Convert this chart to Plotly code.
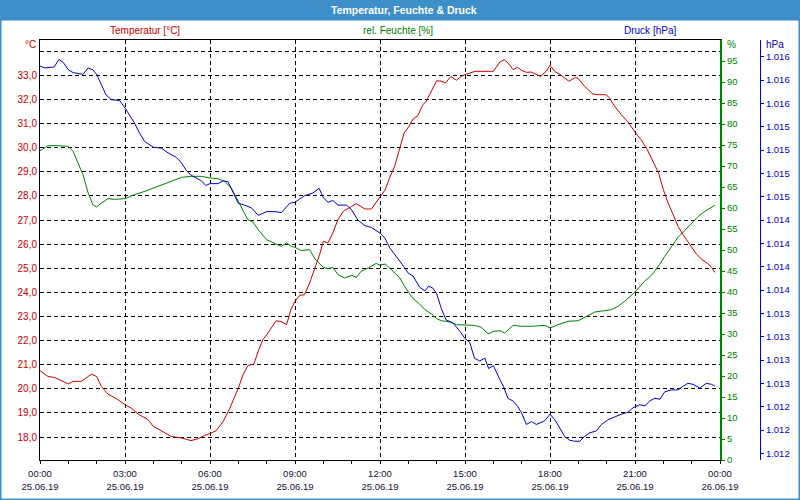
import pandas as pd
import plotly.graph_objects as go

# ---------------- data (minutes after 25.06.19 00:00) ----------------
temp_min = [0, 17, 31, 60, 70, 88, 109, 120, 130, 144, 165, 180, 193, 208, 229, 240, 257, 278, 300, 320,
            335, 349, 360, 373, 388, 402, 420, 430, 440, 453, 462, 472, 480, 500, 511, 522, 532, 540, 550, 560,
            571, 582, 592, 600, 610, 620, 631, 642, 653, 660, 670, 688, 702, 712, 720, 731, 740, 751, 762, 771,
            780, 790, 800, 811, 818, 829, 840, 850, 859, 870, 882, 892, 900, 921, 942, 960, 974, 983, 991, 1002,
            1011, 1020, 1030, 1040, 1060, 1072, 1080, 1090, 1104, 1120, 1134, 1140, 1153, 1171, 1182, 1199, 1206,
            1217, 1231, 1245, 1260, 1273, 1286, 1298, 1310, 1320, 1330, 1341, 1351, 1362, 1372, 1380, 1390, 1402,
            1415, 1422, 1429]
temp_val = [20.75, 20.51, 20.47, 20.20, 20.31, 20.31, 20.61, 20.51, 20.10, 19.78, 19.55, 19.34, 19.20, 18.95,
            18.72, 18.44, 18.26, 18.02, 17.96, 17.85, 17.93, 18.07, 18.14, 18.26, 18.65, 19.20, 20.03, 20.58,
            20.96, 21.03, 21.55, 22.04, 22.24, 22.82, 22.79, 22.66, 23.32, 23.63, 23.88, 23.90, 24.39, 25.01,
            25.56, 26.12, 26.05, 26.46, 27.02, 27.36, 27.47, 27.57, 27.68, 27.46, 27.46, 27.71, 27.96, 28.26,
            28.74, 29.23, 29.99, 30.61, 30.85, 31.19, 31.33, 31.79, 31.93, 32.34, 32.78, 32.76, 32.69, 32.96,
            32.80, 32.96, 33.03, 33.17, 33.17, 33.17, 33.56, 33.65, 33.52, 33.24, 33.34, 33.21, 33.13, 33.14,
            32.96, 33.17, 33.42, 33.17, 33.00, 32.76, 32.92, 32.87, 32.55, 32.23, 32.20, 32.20, 32.06, 31.72,
            31.37, 31.07, 30.65, 30.33, 29.92, 29.46, 28.95, 28.26, 27.71, 27.22, 26.74, 26.39, 26.12, 25.87,
            25.59, 25.36, 25.18, 25.04, 24.83]

hum_min = [0, 17, 38, 60, 70, 80, 91, 102, 112, 120, 130, 144, 158, 180, 200, 222, 240, 257, 278, 300, 320,
           342, 360, 377, 391, 405, 420, 440, 451, 462, 480, 497, 511, 522, 532, 540, 553, 571, 582, 600, 610,
           620, 631, 645, 660, 670, 680, 695, 712, 720, 731, 744, 762, 772, 780, 790, 804, 815, 829, 840, 850,
           868, 882, 900, 920, 935, 949, 960, 974, 984, 991, 1002, 1020, 1041, 1069, 1080, 1097, 1118, 1140,
           1153, 1175, 1196, 1210, 1224, 1238, 1260, 1280, 1295, 1312, 1323, 1337, 1351, 1365, 1380, 1394,
           1408, 1422, 1429]
hum_val = [73.65, 74.84, 74.84, 74.68, 73.49, 70.71, 67.94, 63.57, 60.79, 60.24, 61.19, 62.22, 62.06, 62.22,
           63.17, 63.97, 64.76, 65.56, 66.51, 67.30, 67.54, 67.54, 67.14, 66.98, 66.35, 64.76, 61.59, 57.22,
           56.67, 54.84, 52.46, 51.67, 50.87, 51.67, 50.87, 50.63, 49.84, 50.08, 47.94, 45.87, 45.56, 45.87,
           44.13, 43.33, 43.97, 43.49, 44.92, 45.71, 46.83, 46.35, 46.67, 45.32, 43.33, 41.35, 40.16, 38.41,
           37.14, 35.79, 34.76, 33.65, 33.17, 32.86, 32.22, 32.06, 32.06, 31.59, 30.00, 30.63, 30.79, 30.24,
           31.03, 32.06, 31.83, 31.83, 32.06, 31.43, 32.22, 33.02, 33.17, 33.97, 35.24, 35.56, 35.79, 36.59,
           37.78, 40.00, 42.54, 43.97, 46.51, 48.49, 50.87, 53.02, 54.60, 56.43, 58.02, 59.21, 60.16, 60.63]

pres_min = [0, 10, 30, 40, 49, 60, 70, 91, 102, 112, 120, 130, 140, 151, 169, 180, 200, 211, 222, 240, 257,
            271, 289, 300, 310, 320, 342, 351, 360, 377, 388, 398, 409, 420, 433, 448, 462, 480, 497, 511, 529,
            540, 560, 578, 591, 600, 610, 620, 631, 649, 660, 673, 688, 702, 720, 730, 741, 758, 772, 780, 790,
            804, 815, 823, 832, 840, 850, 860, 874, 889, 900, 910, 920, 931, 942, 950, 960, 974, 981, 991, 1002,
            1012, 1020, 1030, 1041, 1051, 1069, 1080, 1090, 1101, 1111, 1122, 1132, 1143, 1153, 1164, 1178,
            1189, 1203, 1217, 1231, 1245, 1256, 1270, 1281, 1291, 1302, 1313, 1323, 1337, 1351, 1362, 1372,
            1383, 1397, 1411, 1422, 1429]
pres_val = [1016.00, 1015.98, 1015.99, 1016.07, 1016.04, 1015.96, 1015.93, 1015.91, 1015.98, 1015.96, 1015.91,
            1015.80, 1015.69, 1015.64, 1015.63, 1015.55, 1015.39, 1015.28, 1015.19, 1015.13, 1015.12, 1015.07,
            1015.02, 1014.96, 1014.88, 1014.83, 1014.77, 1014.72, 1014.74, 1014.74, 1014.77, 1014.76, 1014.64,
            1014.53, 1014.51, 1014.48, 1014.40, 1014.44, 1014.44, 1014.43, 1014.53, 1014.54, 1014.61, 1014.64,
            1014.69, 1014.59, 1014.54, 1014.56, 1014.51, 1014.51, 1014.46, 1014.35, 1014.29, 1014.27, 1014.21,
            1014.16, 1014.05, 1013.94, 1013.84, 1013.78, 1013.75, 1013.63, 1013.59, 1013.64, 1013.62, 1013.56,
            1013.40, 1013.28, 1013.25, 1013.16, 1013.08, 1013.04, 1012.87, 1012.84, 1012.87, 1012.76, 1012.79,
            1012.64, 1012.57, 1012.44, 1012.41, 1012.35, 1012.28, 1012.16, 1012.19, 1012.16, 1012.20, 1012.27,
            1012.21, 1012.12, 1012.03, 1011.99, 1011.98, 1011.98, 1012.03, 1012.07, 1012.09, 1012.16, 1012.21,
            1012.24, 1012.27, 1012.29, 1012.34, 1012.37, 1012.36, 1012.41, 1012.44, 1012.43, 1012.51, 1012.53,
            1012.53, 1012.57, 1012.60, 1012.59, 1012.55, 1012.60, 1012.59, 1012.57]

# ---------------- tick labels ----------------
temp_ticks = [18, 19, 20, 21, 22, 23, 24, 25, 26, 27, 28, 29, 30, 31, 32, 33, 34]
temp_tick_text = ["18,0", "19,0", "20,0", "21,0", "22,0", "23,0", "24,0", "25,0", "26,0", "27,0",
                  "28,0", "29,0", "30,0", "31,0", "32,0", "33,0", ""]
hum_ticks = [0, 5, 10, 15, 20, 25, 30, 35, 40, 45, 50, 55, 60, 65, 70, 75, 80, 85, 90, 95]
hum_tick_text = ["0", "5", "10", "15", "20", "25", "30", "35", "40", "45", "50", "55", "60", "65",
                 "70", "75", "80", "85", "90", "95"]
pres_ticks = [1016.10, 1015.85, 1015.60, 1015.35, 1015.10, 1014.85, 1014.60, 1014.35, 1014.10,
              1013.85, 1013.60, 1013.35, 1013.10, 1012.85, 1012.60, 1012.35, 1012.10, 1011.85]
pres_tick_text = ["1.016", "1.016", "1.016", "1.015", "1.015", "1.015", "1.015", "1.014", "1.014",
                  "1.014", "1.014", "1.013", "1.013", "1.013", "1.013", "1.012", "1.012", "1.012"]

title_text = "Temperatur, Feuchte & Druck"
series_names = ["Temperatur [°C]", "rel. Feuchte [%]", "Druck [hPa]"]

# ---------------- styling ----------------
RED = "#cc0000"
GREEN = "#008000"
BLUE = "#0000cc"
BAR = "#3c8fc8"
FONT = "Liberation Sans"

W, H = 800, 500
ML, MR, MT, MB = 40, 40, 40, 40
PW = W - ML - MR
PH = H - MT - MB


def px(x):
    return (x - ML) / PW


def py(y):
    return (H - MB - y) / PH


base = pd.Timestamp("2019-06-25 00:00")


def times(mins):
    return [base + pd.Timedelta(minutes=m) for m in mins]


fig = go.Figure()
fig.add_trace(go.Scatter(x=times(temp_min), y=temp_val, mode="lines", name=series_names[0],
                         line=dict(color=RED, width=1), yaxis="y"))
fig.add_trace(go.Scatter(x=times(hum_min), y=hum_val, mode="lines", name=series_names[1],
                         line=dict(color=GREEN, width=1), yaxis="y2"))
fig.add_trace(go.Scatter(x=times(pres_min), y=pres_val, mode="lines", name=series_names[2],
                         line=dict(color=BLUE, width=1), yaxis="y3"))

grid = dict(showgrid=True, gridcolor="black", gridwidth=1, griddash="4px,3px")

fig.update_layout(
    width=W, height=H,
    margin=dict(l=ML, r=MR, t=MT, b=MB, autoexpand=False),
    paper_bgcolor="white", plot_bgcolor="white",
    showlegend=False,
    font=dict(family=FONT, size=10, color="black"),
    xaxis=dict(
        domain=[0, 680 / PW], type="date",
        range=[base, base + pd.Timedelta(days=1)],
        tick0=base, dtick=3 * 3600000, tickformat="%H:%M<br>%d.%m.%y",
        showline=True, linecolor="black", linewidth=1, mirror=True,
        ticks="outside", ticklen=3, tickcolor="black", ticklabelstandoff=2,
        minor=dict(dtick=3600000, ticks="outside", ticklen=3, tickcolor="black", showgrid=False),
        zeroline=False, tickfont=dict(size=9.5, color="#101030"), fixedrange=True,
        **grid,
    ),
    yaxis=dict(
        range=[17.046, 34.47], tickvals=temp_ticks, ticktext=temp_tick_text,
        showline=True, linecolor="black", linewidth=1, ticks="",
        tickfont=dict(size=10, color=RED), zeroline=False, fixedrange=True,
        **grid,
    ),
    yaxis2=dict(
        overlaying="y", side="right", anchor="x", range=[0, 100],
        tickvals=hum_ticks, ticktext=hum_tick_text,
        showgrid=False, showline=True, linecolor=GREEN, linewidth=2,
        ticks="outside", ticklen=3, tickcolor=GREEN,
        tickfont=dict(size=9.5, color=GREEN), zeroline=False, fixedrange=True,
    ),
    yaxis3=dict(
        overlaying="y", side="right", anchor="free", position=1.0,
        range=[1011.779, 1016.279], tickvals=pres_ticks, ticktext=pres_tick_text,
        showgrid=False, showline=True, linecolor=BLUE, linewidth=1,
        ticks="outside", ticklen=3, tickcolor=BLUE,
        tickfont=dict(size=9.5, color=BLUE), zeroline=False, fixedrange=True,
    ),
)

shapes = [
    dict(type="rect", xref="paper", yref="paper", x0=px(0), x1=px(800), y0=py(0), y1=py(20.5),
         fillcolor=BAR, line=dict(width=0), layer="below"),
    dict(type="rect", xref="paper", yref="paper", x0=px(0.75), x1=px(799.25), y0=py(0.75), y1=py(499.25),
         fillcolor="rgba(0,0,0,0)", line=dict(color=BAR, width=1.5)),
]
fig.update_layout(shapes=shapes)

ann = [
    dict(text="<b>" + title_text + "</b>", x=px(404), y=py(10), font=dict(size=10.5, color="white"),
         xanchor="center", yanchor="middle"),
    dict(text=series_names[0], x=px(144.5), y=py(30), font=dict(size=10, color=RED),
         xanchor="center", yanchor="middle"),
    dict(text=series_names[1], x=px(397.5), y=py(30), font=dict(size=10, color=GREEN),
         xanchor="center", yanchor="middle"),
    dict(text=series_names[2], x=px(650), y=py(30), font=dict(size=10, color=BLUE),
         xanchor="center", yanchor="middle"),
    dict(text="°C", x=px(37.5), y=py(45), font=dict(size=10, color=RED), xanchor="right", yanchor="middle"),
    dict(text="%", x=px(725), y=py(45), font=dict(size=10, color=GREEN), xanchor="left", yanchor="middle"),
    dict(text="hPa", x=px(764), y=py(45), font=dict(size=10, color=BLUE), xanchor="left", yanchor="middle"),
]
for a in ann:
    a.update(xref="paper", yref="paper", showarrow=False)
fig.update_layout(annotations=ann)

fig.write_html("out.html")
